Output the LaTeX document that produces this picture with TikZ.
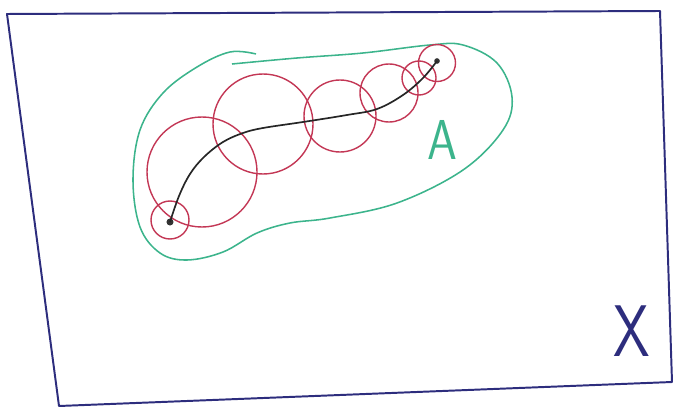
\documentclass[tikz,border=0pt]{standalone}
\usepackage{tikz}
\usetikzlibrary{positioning}

\definecolor{framecol}{RGB}{45,45,125}
\definecolor{setcol}{RGB}{60,180,140}
\definecolor{ballcol}{RGB}{195,55,85}

\begin{document}
\begin{tikzpicture}[
    x=0.025cm, y=-0.025cm,
    frame/.style={draw=framecol, line width=1.4pt, line join=round},
    setline/.style={draw=setcol, line width=1.1pt},
    ball/.style={circle, draw=ballcol, line width=1.0pt, inner sep=0pt},
    curve/.style={draw=black!85, line width=1.2pt},
    pt/.style={circle, fill=black!80, inner sep=0pt, minimum size=5pt},
    lbl/.style={font=\sffamily\fontsize{40}{40}\selectfont, text=setcol, xscale=0.85},
    space/.style={font=\sffamily\fontsize{52}{52}\selectfont, text=framecol, xscale=0.8}
]
  \useasboundingbox (0,0) rectangle (675,412);
  % Space X
  \coordinate (tl) at (7,14);
  \coordinate (tr) at (660,11);
  \coordinate (br) at (672,382);
  \coordinate (bl) at (59,406);
  \draw[frame] (tl) -- (tr) -- (br) -- (bl) -- cycle;
  \node[space] (xlbl) at (632,331) {X};
  % Set A
  \draw[setline] plot[smooth, tension=0.6] coordinates {(232,64) (297,58) (363,53) (430,45) (463,45) (497,63) (512,97) (503,130) (463,170) (397,203) (330,218) (290,223) (257,233) (223,252) (187,260) (160,253) (140,227) (133,180) (140,130) (163,93) (197,67) (230,52) (256,54)};
  \node[lbl] (albl) at (442,140) {A};
  % Covering balls
  \node[ball, minimum size=38*0.025cm] (c1) at (170,220) {};
  \node[ball, minimum size=110*0.025cm] (c2) at (202,172) {};
  \node[ball, minimum size=100*0.025cm] (c3) at (263,124) {};
  \node[ball, minimum size=72*0.025cm] (c4) at (340,116) {};
  \node[ball, minimum size=58*0.025cm] (c5) at (389,93) {};
  \node[ball, minimum size=34*0.025cm] (c6) at (419,78) {};
  \node[ball, minimum size=37*0.025cm] (c7) at (437,63) {};
  % Path between the end points
  \node[pt] (start) at (170,222) {};
  \node[pt, minimum size=4pt] (end) at (437,61) {};
  \draw[curve] plot[smooth, tension=0.6] coordinates {(start.center) (179,196) (190,174) (204,157) (223,142) (243,133) (263,128) (303,122) (347,115) (377,109) (403,95) (423,78) (end.center)};
\end{tikzpicture}
\end{document}
